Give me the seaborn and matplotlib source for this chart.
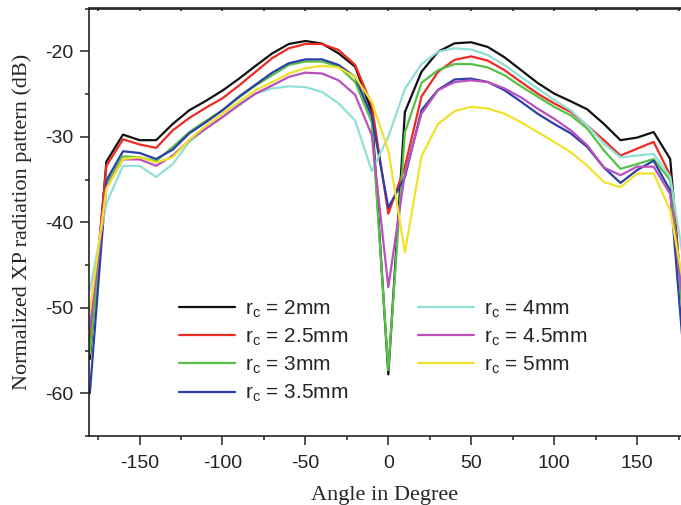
import numpy as np
import pandas as pd
import matplotlib
matplotlib.use("Agg")
import matplotlib.pyplot as plt
from matplotlib.ticker import MultipleLocator, FixedLocator
import seaborn as sns

# Data (dB), angle step 10 deg
angles = list(range(-180, 181, 10))

rc_2mm = [-56.0, -32.9, -29.75, -30.4, -30.4, -28.5, -26.9, -25.8, -24.6, -23.2, -21.7, -20.25, -19.15,
          -18.8, -19.1, -20.25, -21.8, -27.0, -57.8, -27.1, -22.4, -20.05, -19.07, -18.95, -19.5, -20.7,
          -22.2, -23.7, -24.95, -25.85, -26.8, -28.5, -30.4, -30.1, -29.45, -32.6, -56.0]
rc_2_5mm = [-53.9, -33.4, -30.3, -30.9, -31.3, -29.25, -27.8, -26.6, -25.5, -24.0, -22.4, -20.8, -19.65,
            -19.15, -19.15, -19.85, -21.6, -26.3, -39.0, -33.5, -25.3, -22.4, -21.0, -20.6, -21.1, -22.2,
            -23.6, -24.95, -26.1, -27.1, -28.7, -30.4, -32.2, -31.4, -30.6, -34.5, -53.9]
rc_3mm = [-55.4, -35.5, -32.3, -32.4, -32.85, -31.2, -29.45, -28.15, -26.9, -25.4, -24.0, -22.8, -21.6,
          -21.2, -21.2, -21.8, -23.6, -28.3, -57.3, -29.5, -23.7, -22.2, -21.5, -21.5, -21.9, -22.8,
          -24.1, -25.3, -26.5, -27.5, -29.05, -31.6, -33.75, -33.2, -32.6, -35.1, -55.4]
rc_3_5mm = [-60.0, -35.1, -31.7, -31.9, -32.6, -31.5, -29.6, -28.3, -26.9, -25.3, -23.9, -22.5, -21.4,
            -20.95, -20.95, -21.6, -23.0, -27.6, -38.3, -34.7, -26.9, -24.5, -23.3, -23.2, -23.6, -24.55,
            -25.9, -27.3, -28.5, -29.6, -31.2, -33.6, -35.4, -33.9, -32.8, -36.3, -60.0]
rc_4mm = [-48.0, -37.8, -33.4, -33.4, -34.7, -33.2, -30.6, -29.05, -27.7, -26.1, -24.95, -24.35, -24.1,
          -24.2, -24.75, -26.1, -28.1, -34.0, -30.0, -24.4, -21.5, -20.05, -19.65, -19.8, -20.45, -21.6,
          -23.0, -24.35, -25.7, -26.9, -28.7, -30.8, -32.4, -32.2, -32.0, -34.7, -47.0]
rc_4_5mm = [-52.5, -35.9, -32.65, -32.65, -33.4, -32.2, -30.4, -29.05, -27.7, -26.3, -24.95, -24.0, -23.0,
            -22.5, -22.6, -23.4, -25.1, -29.8, -47.6, -34.3, -27.3, -24.55, -23.6, -23.4, -23.6, -24.35,
            -25.4, -26.7, -27.9, -29.25, -31.0, -33.6, -34.5, -33.5, -33.5, -36.7, -53.0]
rc_5mm = [-50.5, -36.1, -32.6, -32.4, -33.0, -32.4, -30.35, -28.7, -27.3, -25.9, -24.55, -23.6, -22.6,
          -22.0, -21.7, -21.9, -23.0, -25.9, -31.6, -43.5, -32.3, -28.5, -27.0, -26.5, -26.7, -27.3,
          -28.3, -29.45, -30.6, -31.8, -33.4, -35.3, -35.9, -34.3, -34.3, -38.6, -49.5]

labels = [r"r$_\mathregular{c}$ = 2mm", r"r$_\mathregular{c}$ = 2.5mm", r"r$_\mathregular{c}$ = 3mm",
          r"r$_\mathregular{c}$ = 3.5mm", r"r$_\mathregular{c}$ = 4mm", r"r$_\mathregular{c}$ = 4.5mm",
          r"r$_\mathregular{c}$ = 5mm"]
series = [rc_2mm, rc_2_5mm, rc_3mm, rc_3_5mm, rc_4mm, rc_4_5mm, rc_5mm]
colors = ["#111111", "#ee2a24", "#55c146", "#2b3fa6", "#8fe0d6", "#bb4fbb", "#f0e22c"]

df = pd.concat(
    [pd.DataFrame({"angle": angles, "xp": s, "rc": lab}) for s, lab in zip(series, labels)],
    ignore_index=True,
)

sns.set_style("ticks")
plt.rcParams["font.family"] = ["Liberation Sans", "DejaVu Sans"]
plt.rcParams["mathtext.fontset"] = "custom"
plt.rcParams["mathtext.rm"] = "Liberation Sans"
plt.rcParams["axes.unicode_minus"] = False

fig = plt.figure(figsize=(6.81, 5.05), dpi=100)
ax = fig.add_axes([89 / 681, 1 - 436 / 505, 1 - 89 / 681, (436 - 8.5) / 505])

sns.lineplot(data=df, x="angle", y="xp", hue="rc", hue_order=labels, palette=colors,
             linewidth=1.6, ax=ax, legend=True)

ax.set_xlim(-180.5, 176.5)
ax.set_ylim(-65, -15)

ax.xaxis.set_major_locator(FixedLocator([-150, -100, -50, 0, 50, 100, 150]))
ax.xaxis.set_minor_locator(MultipleLocator(25))
ax.yaxis.set_major_locator(FixedLocator([-60, -50, -40, -30, -20]))
ax.yaxis.set_minor_locator(MultipleLocator(5))

ax.spines["right"].set_visible(False)
for sp in ["left", "bottom", "top"]:
    ax.spines[sp].set_linewidth(1.2)
    ax.spines[sp].set_color("#222222")

ax.tick_params(axis="both", which="major", direction="out", length=6.5, width=1.1,
               labelsize=14, colors="#222222")
ax.tick_params(axis="both", which="minor", direction="out", length=3, width=1.1, colors="#222222")
ax.tick_params(axis="x", which="major", pad=7)
ax.tick_params(axis="y", which="major", pad=5)

top = ax.secondary_xaxis("top")
top.set_xticks(list(range(-175, 180, 25)))
top.tick_params(direction="in", length=2.5, width=1.1, labeltop=False, colors="#222222")
top.spines["top"].set_linewidth(1.2)

ax.set_xlabel("Angle in Degree", family=["Liberation Serif"], fontsize=16, labelpad=10)
ax.set_ylabel("Normalized XP radiation pattern (dB)", family=["Liberation Serif"], fontsize=16,
              labelpad=9)

sns.move_legend(ax, "upper left", bbox_to_anchor=(179 / 681, 1 - 298 / 505),
                bbox_transform=fig.transFigure, ncol=2, frameon=False, title=None,
                fontsize=15, handlelength=2.7, handletextpad=0.47, columnspacing=3.35,
                labelspacing=0.32, borderpad=0, borderaxespad=0)

fig.savefig("out.png", dpi=100)
